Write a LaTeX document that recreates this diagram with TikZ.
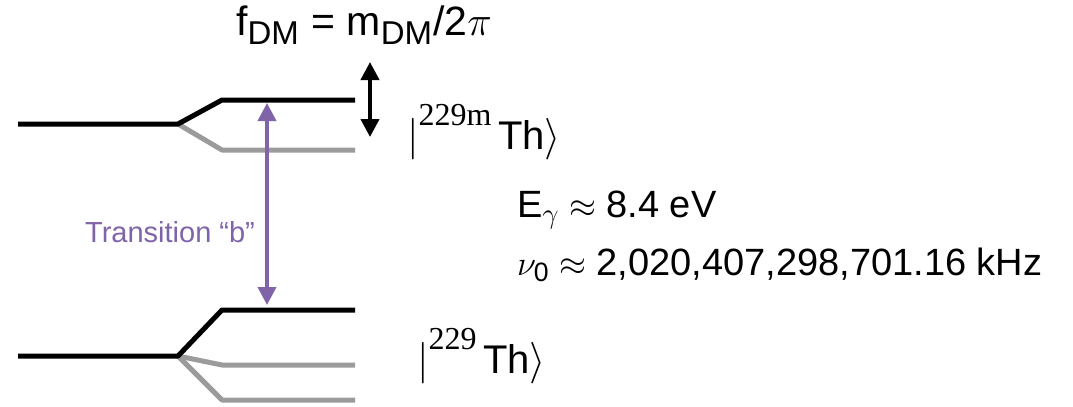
\documentclass[tikz,border=0pt]{standalone}
\usepackage{fontspec}
\setmainfont{Liberation Sans}
\newfontfamily\serifnum{Liberation Serif}
\usetikzlibrary{arrows.meta}
\definecolor{lvlgray}{RGB}{155,155,155}
\definecolor{transpurple}{RGB}{128,100,170}
\newcommand{\isosup}[1]{\raisebox{1.1ex}{\fontsize{16}{18}\serifnum #1}\,}
\tikzset{
  level/.style={line width=2.5pt, line join=round},
  sublevel/.style={line width=2.5pt, line join=round, lvlgray},
  dmarrow/.style={line width=2pt, {Triangle[length=9pt,width=9pt]}-{Triangle[length=9pt,width=9pt]}},
}
\begin{document}
\begin{tikzpicture}[x=0.5pt,y=-0.5pt,font=\fontsize{19}{23}\selectfont]
\useasboundingbox (0,0) rectangle (1073,407);
% isomer level, split in two
\coordinate (mL) at (18,124);
\coordinate (mS) at (178,124);
\coordinate (mUp) at (355,100);
\coordinate (mDn) at (355,150);
\draw[sublevel] (mS) -- (222,150) -- (mDn);
\draw[level] (mL) -- (mS) -- (222,100) -- (mUp);
% ground level, split in three
\coordinate (gL) at (18,356);
\coordinate (gS) at (178,356);
\coordinate (gUp) at (355,310);
\coordinate (gMid) at (355,365);
\coordinate (gDn) at (355,400);
\draw[sublevel] (gS) -- (222,365) -- (gMid);
\draw[sublevel] (gS) -- (222,400) -- (gDn);
\draw[level] (gL) -- (gS) -- (222,310) -- (gUp);
% labels
\node[font=\fontsize{20.5}{24}\selectfont] (fdm) at (364,25) {f\textsubscript{\fontsize{16.5}{19}\selectfont DM} = m\textsubscript{\fontsize{16.5}{19}\selectfont DM}/2$\pi$};
\coordinate (dmTop) at (370,62);
\coordinate (dmBot) at (370,137);
\draw[dmarrow] (dmTop) -- (dmBot);
\node[anchor=west, font=\fontsize{20}{24}\selectfont] (ketm) at (400,132) {$\Bigl|$\isosup{229m}Th$\Bigr\rangle$};
\node[anchor=west, font=\fontsize{20}{24}\selectfont] (ketg) at (410,356) {$\Bigl|$\isosup{229}Th$\Bigr\rangle$};
\node[anchor=west] (egam) at (510,210) {E$_\gamma\approx$ 8.4 eV};
\node[anchor=west] (nu) at (510,265) {$\nu_{\mathrm{0}}\approx$ 2,020,407,298,701.16 kHz};
% transition b
\coordinate (tTop) at (267,103);
\coordinate (tBot) at (267,305);
\draw[dmarrow, transpurple, line width=1.8pt] (tTop) -- (tBot);
\node[anchor=east, transpurple, font=\fontsize{14.5}{17}\selectfont] (tlab) at (262,232) {Transition “b”};
\end{tikzpicture}
\end{document}
